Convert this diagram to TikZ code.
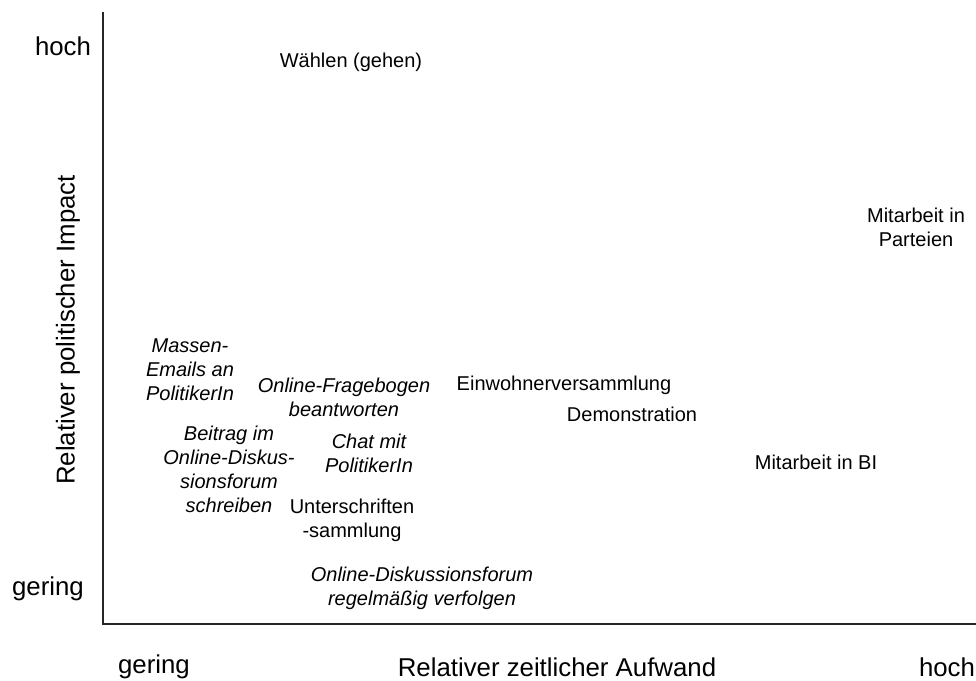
\documentclass[tikz,border=0pt]{standalone}
\usepackage{fontspec}
\setmainfont{Liberation Sans}
\begin{document}
\begin{tikzpicture}[x=1pt,y=-1pt,
  axislabel/.style={font=\fontsize{25.8}{29}\selectfont, inner sep=0pt},
  item/.style={font=\fontsize{20}{24}\selectfont, align=center, inner sep=0pt},
  itemit/.style={item, font=\fontsize{20}{24}\selectfont\itshape},
  axisline/.style={line width=1.3pt, black!85}]
\useasboundingbox (0,0) rectangle (976,680);
\coordinate (top) at (103,12);
\coordinate (origin) at (103,624);
\coordinate (right) at (976,624);
\draw[axisline] (top) -- (origin) -- (right);

\node[axislabel] (yhoch) at (63,46) {hoch};
\node[axislabel] (ygering) at (48,589) {gering};
\node[axislabel, rotate=90] (ylabel) at (68,330) {Relativer politischer Impact};
\node[axislabel] (xgering) at (154,667) {gering};
\node[axislabel] (xlabel) at (557,667) {Relativer zeitlicher Aufwand};
\node[axislabel] (xhoch) at (947,667) {hoch};

\node[item] (waehlen) at (351,62) {Wählen (gehen)};
\node[item] (parteien) at (916,227) {Mitarbeit in\\Parteien};
\node[itemit] (massen) at (190,370) {Massen-\\Emails an\\PolitikerIn};
\node[itemit] (frageb) at (344,397) {Online-Fragebogen\\beantworten};
\node[item] (einw) at (564,385) {Einwohnerversammlung};
\node[item] (demo) at (632,414) {Demonstration};
\node[itemit] (beitrag) at (229,469) {Beitrag im\\Online-Diskus-\\sionsforum\\schreiben};
\node[itemit] (chat) at (369,453) {Chat mit\\PolitikerIn};
\node[item] (unter) at (352,520) {Unterschriften\\-sammlung};
\node[itemit] (forum) at (422,588) {Online-Diskussionsforum\\regelmäßig verfolgen};
\node[item] (bi) at (816,462) {Mitarbeit in BI};
\end{tikzpicture}
\end{document}
